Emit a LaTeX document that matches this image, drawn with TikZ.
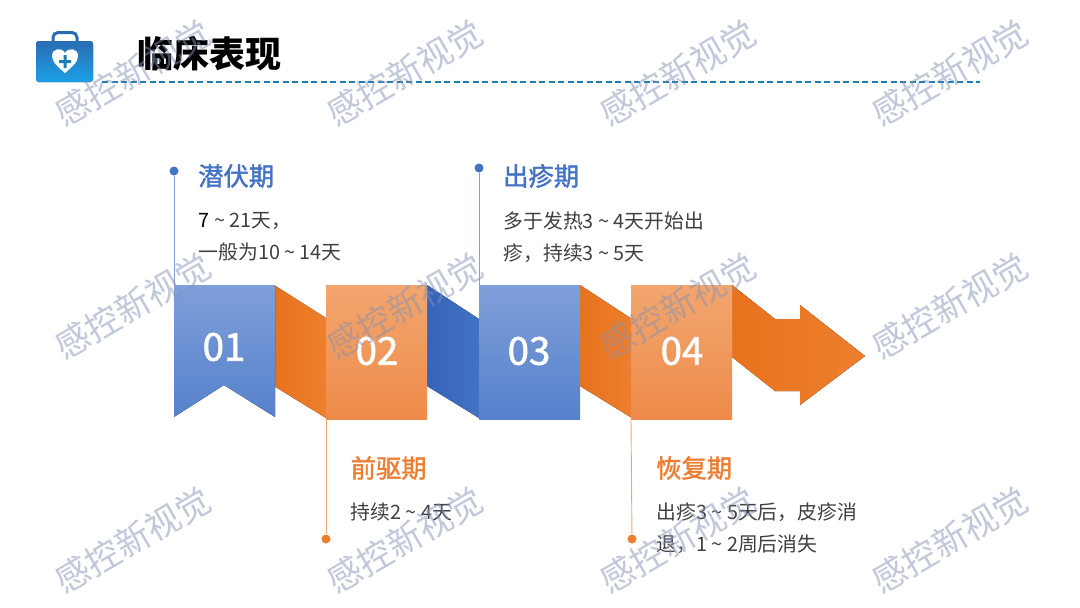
\documentclass[tikz,border=0pt]{standalone}
\usepackage{fontspec}
\setmainfont{Noto Sans CJK SC}
\newfontfamily\numfont[FakeBold=1.5]{Noto Sans CJK SC}
\newfontfamily\headfont[FakeBold=1.5]{Noto Sans CJK SC}
\usetikzlibrary{shapes.geometric}
\definecolor{blueT}{HTML}{7F9FD9}
\definecolor{blueB}{HTML}{5681CC}
\definecolor{orT}{HTML}{F2A66F}
\definecolor{orB}{HTML}{EE8B49}
\definecolor{foldL}{HTML}{E8721D}
\definecolor{foldR}{HTML}{EE7F2E}
\definecolor{bfoldL}{HTML}{3664B8}
\definecolor{bfoldR}{HTML}{4272C4}
\definecolor{headB}{HTML}{4472C4}
\definecolor{headO}{HTML}{ED7D31}
\definecolor{bodyT}{HTML}{404040}
\definecolor{wm}{HTML}{8492B4}
\definecolor{iconT}{HTML}{2A6CB4}
\definecolor{iconB}{HTML}{1CA0E6}
\definecolor{ruleC}{HTML}{1F7DB5}
\tikzset{
 x=1pt,y=-1pt,
 bluebox/.style={rectangle,inner sep=0pt,minimum width=101pt,minimum height=134pt,anchor=north west,top color=blueT,bottom color=blueB},
 orbox/.style={bluebox,top color=orT,bottom color=orB},
 orfold/.style={left color=foldL,right color=foldR},
 bfold/.style={left color=bfoldL,right color=bfoldR},
 numlabel/.style={text=white,inner sep=0pt,font=\numfont\fontsize{38.5}{38}\selectfont},
 dotb/.style={circle,fill=headB,inner sep=0pt,minimum size=9pt},
 doto/.style={circle,fill=headO,inner sep=0pt,minimum size=9pt},
 stemb/.style={draw=blueT,line width=.9pt},
 stemo/.style={draw=orT,line width=.9pt},
 headtxt/.style={anchor=west,inner sep=0pt,font=\headfont\fontsize{25.3}{26}\selectfont},
 bodytxt/.style={anchor=north west,inner sep=0pt,text=bodyT,align=left,font=\fontsize{19.8}{32}\selectfont},
 wmark/.style={text=wm,opacity=.5,rotate=30,inner sep=0pt,font=\fontsize{34.5}{34}\selectfont},
}
\begin{document}
\begin{tikzpicture}
\useasboundingbox (0,0) rectangle (1080,608);
\fill[white] (0,0) rectangle (1080,608);
% icon
\draw[draw=iconT,line width=3pt,rounded corners=5pt] (53,42) -- (53,32.5) -- (77,32.5) -- (77,42);
\fill[top color=iconT,bottom color=iconB,rounded corners=3pt] (36,41) rectangle (93,82);
\fill[white] (65,73) .. controls (58,67) and (52,62) .. (52,56) .. controls (52,48) and (62,47) .. (65,53) .. controls (68,47) and (78,48) .. (78,56) .. controls (78,62) and (72,67) .. (65,73) -- cycle;
\fill[ruleC] (63.5,55) rectangle (66.5,68) (59,60) rectangle (71,63);
% title
\node[anchor=west,inner sep=0pt,font=\fontsize{36}{36}\selectfont\bfseries] (title) at (137,54) {临床表现};
\coordinate (ruleL) at (102,82);
\coordinate (ruleR) at (980,82);
\draw[draw=ruleC,line width=1.2pt,dash pattern=on 6pt off 3.5pt] (ruleL) -- (ruleR);
% dots
\node[dotb] (dot1) at (174,171) {};
\node[doto] (dot2) at (326,539) {};
\node[dotb] (dot3) at (479,168) {};
\node[doto] (dot4) at (632,539) {};
% folds
\fill[orfold] (274,285) -- (326,318) -- (326,418) -- (274,386) -- cycle;
\fill[bfold] (427,285) -- (479,319) -- (479,418) -- (427,386) -- cycle;
\fill[orfold] (580,285) -- (632,319) -- (632,418) -- (580,386) -- cycle;
\fill[orfold] (732,285) -- (775,319) -- (800,319) -- (800,305) -- (865,356) -- (800,405) -- (800,391) -- (775,391) -- (732,357) -- cycle;
% boxes
\fill[top color=blueT,bottom color=blueB] (174,285) -- (275,285) -- (275,417) -- (224,385) -- (174,417) -- cycle;
\coordinate (box1) at (174,285);
\node[numlabel] (n1) at (224,347) {01};
\node[orbox] (box2) at (326,285) {};
\node[numlabel] (n2) at (377,351) {02};
\node[bluebox] (box3) at (479,285) {};
\node[numlabel] (n3) at (529,351) {03};
\node[orbox] (box4) at (631,285) {};
\node[numlabel] (n4) at (682,351) {04};
% stems
\draw[stemb] (dot1) -- (box1);
\draw[stemo] (box2.south west) -- (dot2);
\draw[stemb] (dot3) -- (box3.north west);
\draw[stemo] (box4.south west) -- (dot4);
% text
\node[headtxt,text=headB] (h1) at (198,176) {潜伏期};
\node[bodytxt] (t1) at (198.5,212) {{\color{black}7} \textasciitilde{} 21天，\\一般为10 \textasciitilde{} 14天};
\node[headtxt,text=headB] (h3) at (503,176) {出疹期};
\node[bodytxt] (t3) at (503.5,212) {多于发热3 \textasciitilde{} 4天开始出\\疹，持续3 \textasciitilde{} 5天};
\node[headtxt,text=headO] (h2) at (350.5,468) {前驱期};
\node[bodytxt] (t2) at (350.5,503) {持续2 \textasciitilde{} 4天};
\node[headtxt,text=headO] (h4) at (656,468) {恢复期};
\node[bodytxt] (t4) at (656.5,503) {出疹3 \textasciitilde{} 5天后，皮疹消\\退，1 \textasciitilde{} 2周后消失};
% watermarks
\node[wmark] (w1) at (133,73) {感控新视觉};
\node[wmark] (w2) at (405,73) {感控新视觉};
\node[wmark] (w3) at (678,73) {感控新视觉};
\node[wmark] (w4) at (950,73) {感控新视觉};
\node[wmark] (w5) at (133,306) {感控新视觉};
\node[wmark] (w6) at (405,306) {感控新视觉};
\node[wmark] (w7) at (678,306) {感控新视觉};
\node[wmark] (w8) at (950,306) {感控新视觉};
\node[wmark] (w9) at (133,540) {感控新视觉};
\node[wmark] (w10) at (405,540) {感控新视觉};
\node[wmark] (w11) at (678,540) {感控新视觉};
\node[wmark] (w12) at (950,540) {感控新视觉};
\end{tikzpicture}
\end{document}
